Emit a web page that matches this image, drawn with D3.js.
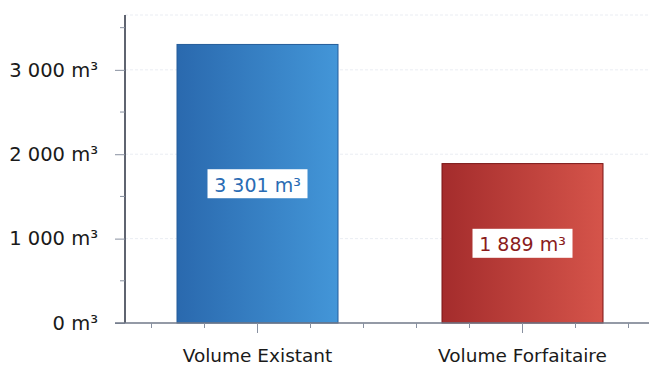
<!DOCTYPE html>
<html><head><meta charset="utf-8">
<script src="https://cdn.jsdelivr.net/npm/d3@7"></script>
<style>body{margin:0;background:#fff}svg{display:block}</style>
</head><body><svg id="c" width="649" height="365"></svg>
<script>
const categories = ["Volume Existant", "Volume Forfaitaire"];
const values = [3301, 1889];
const valueLabels = ["3 301 m³", "1 889 m³"];
const yTicks = [0, 1000, 2000, 3000];
const yTickLabels = ["0 m³", "1 000 m³", "2 000 m³", "3 000 m³"];
const yMinorTicks = [500, 1500, 2500, 3500];

const svg = d3.select("#c");
const mLeft = 125, mRight = 655, mTop = 15, mBottom = 323;
const font = "'DejaVu Sans', Verdana, sans-serif";

const y = d3.scaleLinear().domain([0, 3650]).range([mBottom, mTop]);
const x = d3.scaleBand().domain(categories).range([mLeft, mRight]).paddingInner(0).paddingOuter(0);

const defs = svg.append("defs");
const grads = [["gBlue", "#2a69ae", "#4396d8"], ["gRed", "#a42c2c", "#d5544a"]];
grads.forEach(([id, c1, c2]) => {
  const g = defs.append("linearGradient").attr("id", id).attr("x1", 0).attr("x2", 1).attr("y1", 0).attr("y2", 0);
  g.append("stop").attr("offset", "0%").attr("stop-color", c1);
  g.append("stop").attr("offset", "100%").attr("stop-color", c2);
});
const strokes = ["#245d9a", "#7a1414"];
const textColors = ["#2a6cb4", "#8a1c1c"];

// grid lines
svg.append("g").selectAll("line").data(yTicks.filter(d => d > 0).concat([3650])).join("line")
  .attr("x1", mLeft).attr("x2", 649).attr("y1", d => y(d)).attr("y2", d => y(d))
  .attr("stroke", "#eaedf3").attr("stroke-width", 1).attr("stroke-dasharray", "3,2");

// bars
const barW = 161;
svg.append("g").selectAll("rect").data(values).join("rect")
  .attr("x", (d, i) => x(categories[i]) + x.bandwidth() / 2 - barW / 2)
  .attr("width", barW)
  .attr("y", d => y(d))
  .attr("height", d => y(0) - y(d))
  .attr("fill", (d, i) => `url(#${grads[i][0]})`)
  .attr("stroke", (d, i) => strokes[i]).attr("stroke-width", 1);

// value labels
values.forEach((v, i) => {
  const cx = x(categories[i]) + x.bandwidth() / 2;
  const cy = (y(v) + y(0)) / 2;
  const g = svg.append("g");
  g.append("rect").attr("x", cx - 50).attr("y", cy - 14.5).attr("width", 100).attr("height", 29)
    .attr("fill", "#fff");
  g.append("text").attr("x", cx).attr("y", cy + 1).attr("text-anchor", "middle")
    .attr("dominant-baseline", "central").attr("font-family", font).attr("font-size", 19)
    .attr("fill", textColors[i]).text(valueLabels[i]);
});

// y axis
const yAxis = d3.axisLeft(y).tickValues(yTicks).tickFormat((d, i) => yTickLabels[i]).tickSize(10).tickPadding(17);
const ya = svg.append("g").attr("transform", `translate(${mLeft},0)`).call(yAxis);
ya.select(".domain").attr("stroke", "#2a3040").attr("stroke-width", 1.5).attr("d", `M0,${mTop}V${mBottom}`);
ya.selectAll(".tick line").attr("stroke", "#8890a0");
ya.selectAll(".tick text").attr("font-family", font).attr("font-size", 19.5).attr("fill", "#1a1a1a");
svg.append("g").selectAll("line").data(yMinorTicks).join("line")
  .attr("x1", mLeft - 5).attr("x2", mLeft).attr("y1", d => y(d)).attr("y2", d => y(d))
  .attr("stroke", "#8890a0");

// x axis
const xAxis = d3.axisBottom(x).tickSize(10).tickPadding(16);
const xa = svg.append("g").attr("transform", `translate(0,${mBottom})`).call(xAxis);
xa.select(".domain").attr("stroke", "#707888").attr("stroke-width", 1.5).attr("d", `M115,0H649`);
xa.selectAll(".tick line").attr("stroke", "#8890a0");
xa.selectAll(".tick text").attr("font-family", font).attr("font-size", 18.5).attr("fill", "#1a1a1a");
const minorX = [];
categories.forEach(c => [0.1, 0.3, 0.7, 0.9].forEach(f => minorX.push(x(c) + f * x.bandwidth())));
svg.append("g").selectAll("line").data(minorX.filter(v => v < 649)).join("line")
  .attr("x1", d => d).attr("x2", d => d).attr("y1", mBottom).attr("y2", mBottom + 5)
  .attr("stroke", "#8890a0");
</script></body></html>
